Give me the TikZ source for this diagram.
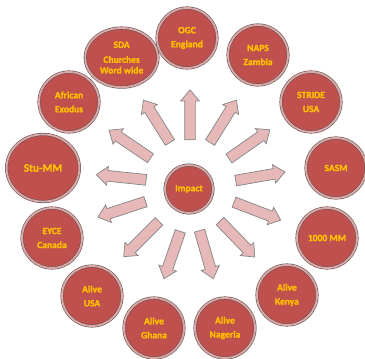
\documentclass[tikz,border=0pt]{standalone}
\usepackage{fontspec}
\setmainfont{Carlito}[BoldFeatures={FakeBold=1.6}]
\usetikzlibrary{shapes.geometric,shapes.arrows}
\definecolor{ballred}{HTML}{C0504D}
\definecolor{ballrim}{HTML}{DDA9A8}
\definecolor{balledge}{HTML}{6A5858}
\definecolor{labelgold}{HTML}{FFC000}
\definecolor{spokepink}{HTML}{E6B9B8}
\definecolor{spokeedge}{HTML}{858585}
\begin{document}
\begin{tikzpicture}[
  ball/.style={circle, fill=ballred, draw=balledge, double=ballrim, double distance=1.3pt, line width=0.45pt,
    minimum size=1.5cm, inner sep=0pt, align=center, text=labelgold, font=\bfseries\fontsize{6.8}{7.6}\selectfont},
  spoke/.style={single arrow, fill=spokepink, draw=spokeedge, line width=0.5pt, minimum height=1.25cm,
    inner xsep=0pt, inner ysep=0.125cm, single arrow head extend=0.1cm, single arrow tip angle=80}]
\useasboundingbox (0,0) rectangle (9.125,8.95);
%hub
\node[ball, minimum size=1.2cm] at (4.725,4.225) (impact) {Impact};
%outer ring
\node[ball] at (4.675,8.0) (ogc) {OGC\\[2.4pt]England};
\node[ball, ellipse, minimum width=1.82cm, minimum height=1.48cm] at (3.04,7.51) (sda) {SDA\\[3pt]Churches\\Word wide};
\node[ball] at (6.45,7.575) (naps) {NAPS\\[2.4pt]Zambia};
\node[ball] at (7.775,6.4) (stride) {STRIDE\\[2.4pt]USA};
\node[ball] at (8.4,4.75) (sasm) {SASM};
\node[ball] at (8.175,3.0) (mm1000) {1000 MM};
\node[ball] at (7.175,1.575) (kenya) {Alive\\[2.4pt]Kenya};
\node[ball] at (5.625,0.75) (nageria) {Alive\\[2.4pt]Nageria};
\node[ball] at (3.85,0.75) (ghana) {Alive\\[2.4pt]Ghana};
\node[ball] at (2.3,1.55) (aliveusa) {Alive\\[2.4pt]USA};
\node[ball] at (1.3,3.0) (eyce) {EYCE\\[2.4pt]Canada};
\node[ball, ellipse, minimum width=1.82cm, minimum height=1.68cm, font=\bfseries\fontsize{8}{9}\selectfont] at (1.075,4.75) (stumm) {Stu-MM};
\node[ball] at (1.725,6.4) (african) {African\\[2.4pt]Exodus};
%spokes
\node[spoke, rotate=90] at (4.75,6.0) (s-ogc) {};
\node[spoke, rotate=122] at (3.96,5.85) (s-sda) {};
\node[spoke, rotate=58] at (5.54,5.85) (s-naps) {};
\node[spoke, rotate=146] at (3.31,5.30) (s-african) {};
\node[spoke, rotate=35] at (6.17,5.30) (s-stride) {};
\node[spoke, rotate=174] at (3.11,4.51) (s-stumm) {};
\node[spoke, rotate=10] at (6.43,4.53) (s-sasm) {};
\node[spoke, rotate=198] at (3.12,3.74) (s-eyce) {};
\node[spoke, rotate=-21] at (6.36,3.70) (s-mm1000) {};
\node[spoke, rotate=225] at (3.59,3.03) (s-aliveusa) {};
\node[spoke, rotate=-46] at (5.88,3.03) (s-kenya) {};
\node[spoke, rotate=251] at (4.33,2.65) (s-ghana) {};
\node[spoke, rotate=-74] at (5.14,2.66) (s-nageria) {};
\end{tikzpicture}
\end{document}
